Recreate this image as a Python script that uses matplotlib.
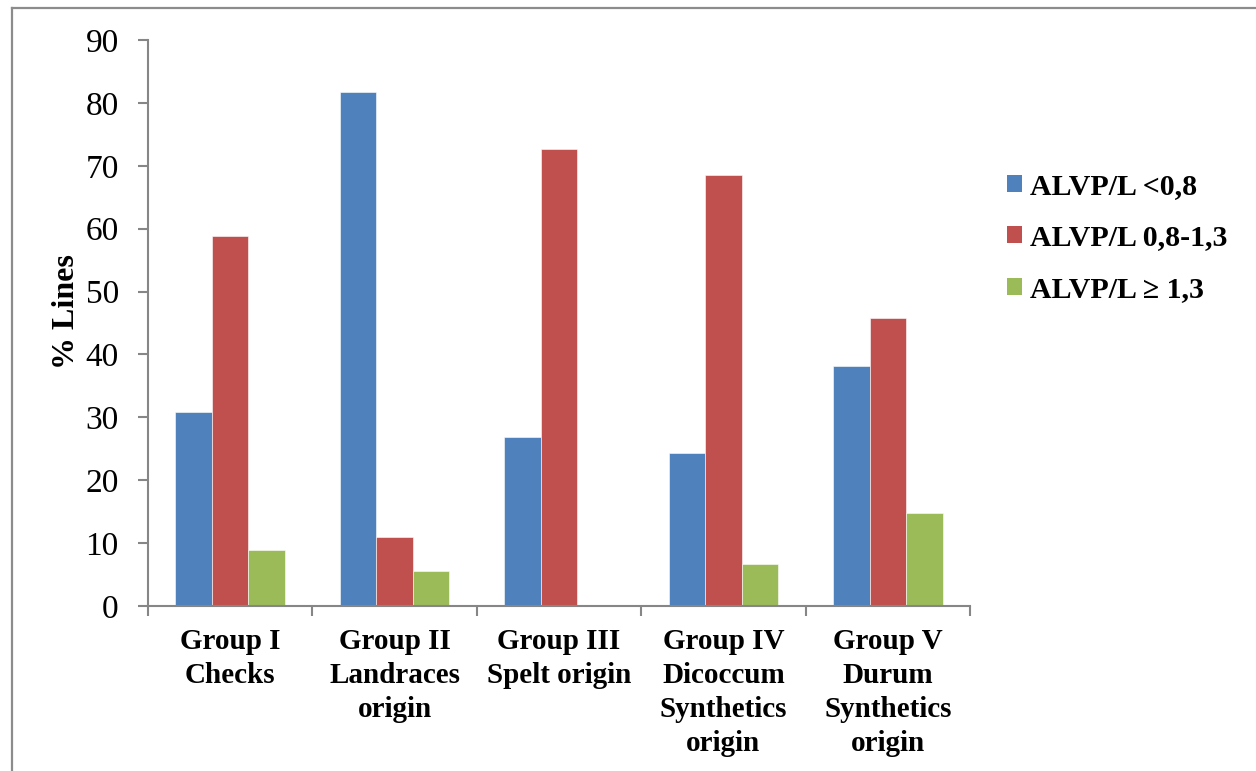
import matplotlib
matplotlib.use("Agg")
import matplotlib.pyplot as plt
import numpy as np
from matplotlib.lines import Line2D
from matplotlib.patches import Patch

categories = ["Group I\nChecks", "Group II\nLandraces\norigin", "Group III\nSpelt origin",
              "Group IV\nDicoccum\nSynthetics\norigin", "Group V\nDurum\nSynthetics\norigin"]
series_names = ["ALVP/L <0,8", "ALVP/L 0,8-1,3", "ALVP/L \u2265 1,3"]
low = [30.8, 81.7, 26.9, 24.4, 38.2]
mid = [58.8, 10.9, 72.7, 68.6, 45.8]
high = [8.9, 5.6, 0.0, 6.6, 14.8]
colors = ["#4F81BD", "#C0504D", "#9BBB59"]

plt.rcParams['font.family'] = ['Liberation Serif', 'DejaVu Serif']

W, H = 1256, 771
fig = plt.figure(figsize=(W / 100, H / 100), dpi=100)
ax = fig.add_axes([148 / W, 1 - 606 / H, (970 - 148) / W, (606 - 40) / H])

x = np.arange(len(categories))
bw = 1 / 4.5
for i, (vals, c) in enumerate(zip([low, mid, high], colors)):
    ax.bar(x + (i - 1) * bw, vals, width=bw, color=c, edgecolor="white",
           linewidth=0.4, zorder=2)

ax.set_xlim(-0.5, len(categories) - 0.5)
ax.set_ylim(0, 90)
ax.set_yticks(range(0, 91, 10))
ax.tick_params(axis="y", labelsize=24, direction="out", length=7, width=1.5,
               color="#868686", pad=14)
ax.set_xticks(x)
ax.set_xticklabels(categories, fontsize=21, fontweight="bold", linespacing=1.33)
ax.tick_params(axis="x", length=0, pad=16)
ax.set_xticks(np.arange(-0.5, len(categories)), minor=True)
ax.tick_params(axis="x", which="minor", length=7, width=1.5, color="#868686",
               direction="out")
for s in ["top", "right"]:
    ax.spines[s].set_visible(False)
for s in ["left", "bottom"]:
    ax.spines[s].set_color("#868686")
    ax.spines[s].set_linewidth(1.5)
ax.set_ylabel("% Lines", fontsize=23, fontweight="bold")
ax.yaxis.set_label_coords((81 - 148) / 822, (606 - 312) / 566)

handles = [Patch(facecolor=c, edgecolor="none") for c in colors]
fig.legend(handles, series_names, loc="center left",
           bbox_to_anchor=(980 / W, 1 - 238 / H), frameon=False,
           prop={"size": 21.5, "weight": "bold"}, handlelength=0.5,
           handleheight=0.5, handletextpad=0.27, labelspacing=0.83)

# frame lines along the left and top edges
fig.add_artist(Line2D([12 / W, 12 / W], [0, 1 - 8 / H], transform=fig.transFigure,
                      color="#8c8c8c", linewidth=1.6))
fig.add_artist(Line2D([12 / W, 1], [1 - 8 / H, 1 - 8 / H], transform=fig.transFigure,
                      color="#8c8c8c", linewidth=1.6))

fig.savefig("out.png", dpi=100)
